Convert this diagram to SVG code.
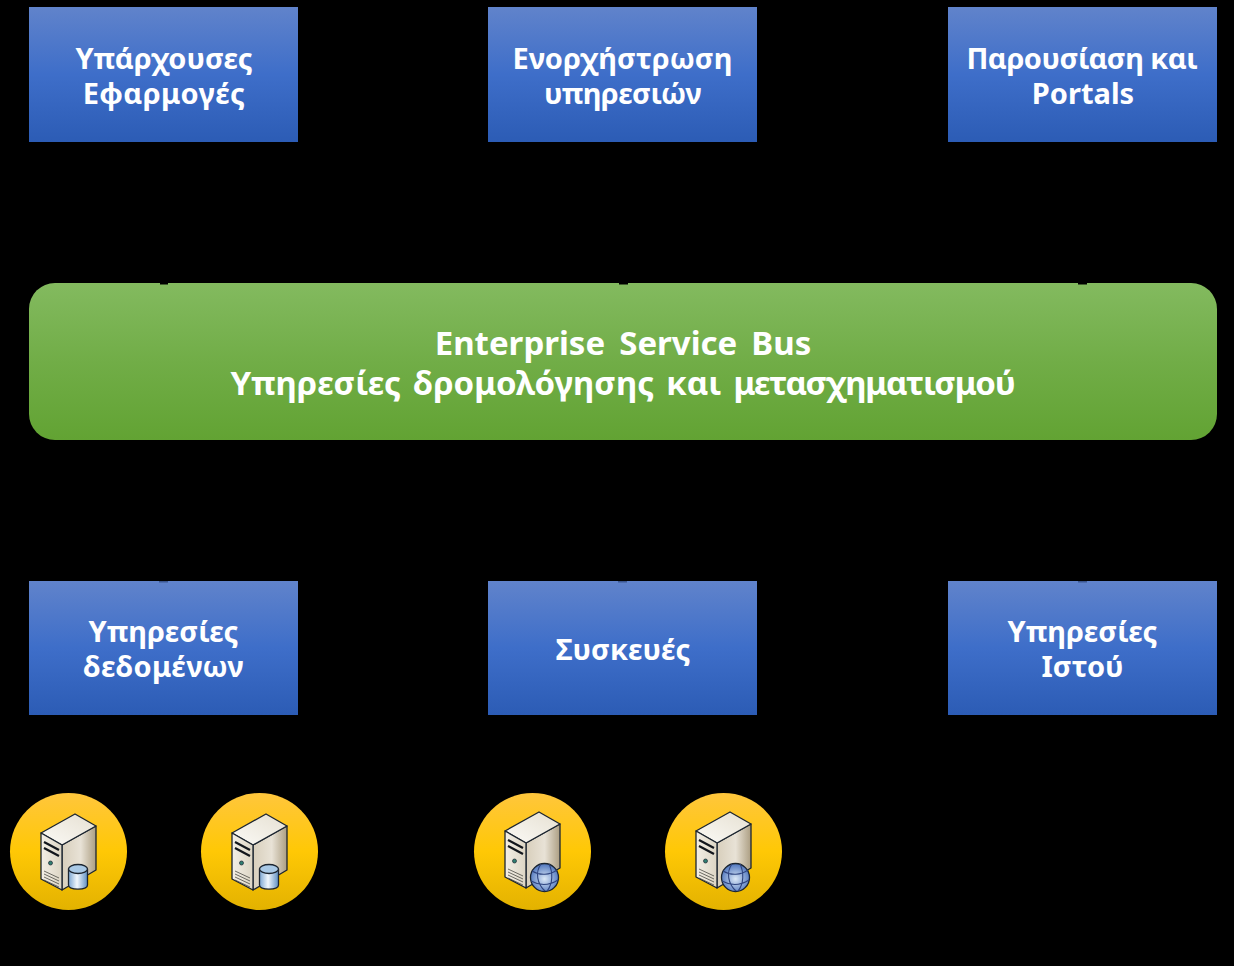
<svg xmlns="http://www.w3.org/2000/svg" width="1234" height="966" viewBox="0 0 1234 966">
<style>
text{font-family:"Noto Sans","DejaVu Sans",sans-serif;font-weight:700;fill:#fff;text-anchor:middle}
.b{font-size:29px}.g{font-size:33px}
.o{stroke:#1c2530;stroke-width:1.3;stroke-linejoin:round}
.v{fill:none;stroke:#2f4580;stroke-width:1.1}
</style>
<defs>
<linearGradient id="bl" x1="0" y1="0" x2="0" y2="1"><stop offset="0" stop-color="#6083cb"/><stop offset=".5" stop-color="#3e6ec9"/><stop offset="1" stop-color="#2c5cb5"/></linearGradient>
<linearGradient id="gr" x1="0" y1="0" x2="0" y2="1"><stop offset="0" stop-color="#83ba5f"/><stop offset=".5" stop-color="#71ad47"/><stop offset="1" stop-color="#62a333"/></linearGradient>
<linearGradient id="ye" x1="0" y1="0" x2="0" y2="1"><stop offset="0" stop-color="#ffc63c"/><stop offset=".5" stop-color="#ffc805"/><stop offset="1" stop-color="#e3b200"/></linearGradient>
<linearGradient id="side" x1="0" y1="0" x2="1" y2="0"><stop offset="0" stop-color="#d8cfbc"/><stop offset=".55" stop-color="#e8e2d6"/><stop offset="1" stop-color="#ac9e82"/></linearGradient>
<linearGradient id="front" x1="0" y1="0" x2="1" y2="0"><stop offset="0" stop-color="#f3efe6"/><stop offset="1" stop-color="#dcd5c4"/></linearGradient>
<linearGradient id="top" x1="0" y1="1" x2="1" y2="0"><stop offset="0" stop-color="#fbfaf6"/><stop offset="1" stop-color="#e6e0d2"/></linearGradient>
<linearGradient id="cyl" x1="0" y1="0" x2="1" y2="0"><stop offset="0" stop-color="#7ba6d2"/><stop offset=".45" stop-color="#f1f7fc"/><stop offset="1" stop-color="#5e8fc2"/></linearGradient>
<radialGradient id="gl" cx=".5" cy=".55" r=".55"><stop offset="0" stop-color="#dbe8f6"/><stop offset="1" stop-color="#4d74bd"/></radialGradient>
<g id="srv">
<path class="o" d="M62 845L96 826V870L62 890Z" fill="url(#side)"/>
<path class="o" d="M41 833L75 814L96 826L62 845Z" fill="url(#top)"/>
<path class="o" d="M41 833L62 845V890L41 879Z" fill="url(#front)"/>
<path d="M44 842L59 850M44 848L59 856" stroke="#12161c" stroke-width="2.200"/>
<circle cx="50.500" cy="863" r="2" fill="#2f7f72" stroke="#1c2530" stroke-width=".7"/>
<path d="M44 871L59 878M44 874L59 881M44 877L59 884M44 880L59 887" stroke="#4a4a44" stroke-width=".8"/>
</g>
<g id="db">
<path class="o" d="M68.500 869V885C68.500 890.500 87.500 890.500 87.500 885V869Z" fill="url(#cyl)"/>
<ellipse class="o" cx="78" cy="869" rx="9.500" ry="4.500" fill="#a9c9e6"/>
</g>
<g id="web">
<circle class="o" cx="544.500" cy="877.500" r="14" fill="url(#gl)"/>
<path class="v" d="M532 871C540 876 550 875 557 870M531 881C540 886 550 885 558 880M541 864C535 872 537 884 545 891M549 864C553 872 553 884 547 891"/>
</g>
</defs>
<rect width="1234" height="966" fill="#000"/>
<g id="n1"><rect x="29" y="7" width="269" height="135" fill="url(#bl)"/><text class="b" x="164" y="69">Υπάρχουσες</text><text class="b" x="164" y="104" letter-spacing=".4">Εφαρμογές</text></g>
<g id="n2"><rect x="488" y="7" width="269" height="135" fill="url(#bl)"/><text class="b" x="622.500" y="69">Ενορχήστρωση</text><text class="b" x="622.500" y="104" letter-spacing="-.55">υπηρεσιών</text></g>
<g id="n3"><rect x="948" y="7" width="269" height="135" fill="url(#bl)"/><text class="b" x="1082" y="69" letter-spacing="-.5">Παρουσίαση και</text><text class="b" x="1083" y="104">Portals</text></g>
<g id="esb"><rect x="29" y="283" width="1188" height="157" rx="26" fill="url(#gr)"/><text class="g" x="623" y="354.500" word-spacing="5.500">Enterprise Service Bus</text><text class="g" x="622.500" y="394.500" word-spacing="3.500">Υπηρεσίες δρομολόγησης και <tspan letter-spacing="-1.200">μετασχηματισμού</tspan></text></g>
<g id="n4"><rect x="29" y="581" width="269" height="134" fill="url(#bl)"/><text class="b" x="163.500" y="642">Υπηρεσίες</text><text class="b" x="163.500" y="677" letter-spacing=".3">δεδομένων</text></g>
<g id="n5"><rect x="488" y="581" width="269" height="134" fill="url(#bl)"/><text class="b" x="623" y="660">Συσκευές</text></g>
<g id="n6"><rect x="948" y="581" width="269" height="134" fill="url(#bl)"/><text class="b" x="1082.500" y="642">Υπηρεσίες</text><text class="b" x="1082.500" y="677">Ιστού</text></g>
<g id="s1"><circle cx="68.500" cy="851.500" r="58.500" fill="url(#ye)"/><use href="#srv"/><use href="#db"/></g>
<g id="s2"><circle cx="259.500" cy="851.500" r="58.500" fill="url(#ye)"/><use href="#srv" x="191"/><use href="#db" x="191"/></g>
<g id="s3"><circle cx="532.500" cy="851.500" r="58.500" fill="url(#ye)"/><use href="#srv" x="464" y="-2"/><use href="#web"/></g>
<g id="s4"><circle cx="723.500" cy="851.500" r="58.500" fill="url(#ye)"/><use href="#srv" x="655" y="-2"/><use href="#web" x="191"/></g>
<g id="connectors">
<path d="M160 283h8v1.500h-8zM619 283h9v1.500h-9zM1078 283h9v1.500h-9z" fill="#000"/>
<path d="M159 581h9v1.500h-9zM618 581h9v1.500h-9zM1078 581h9v1.500h-9z" fill="#3a5690"/>
</g>
</svg>
